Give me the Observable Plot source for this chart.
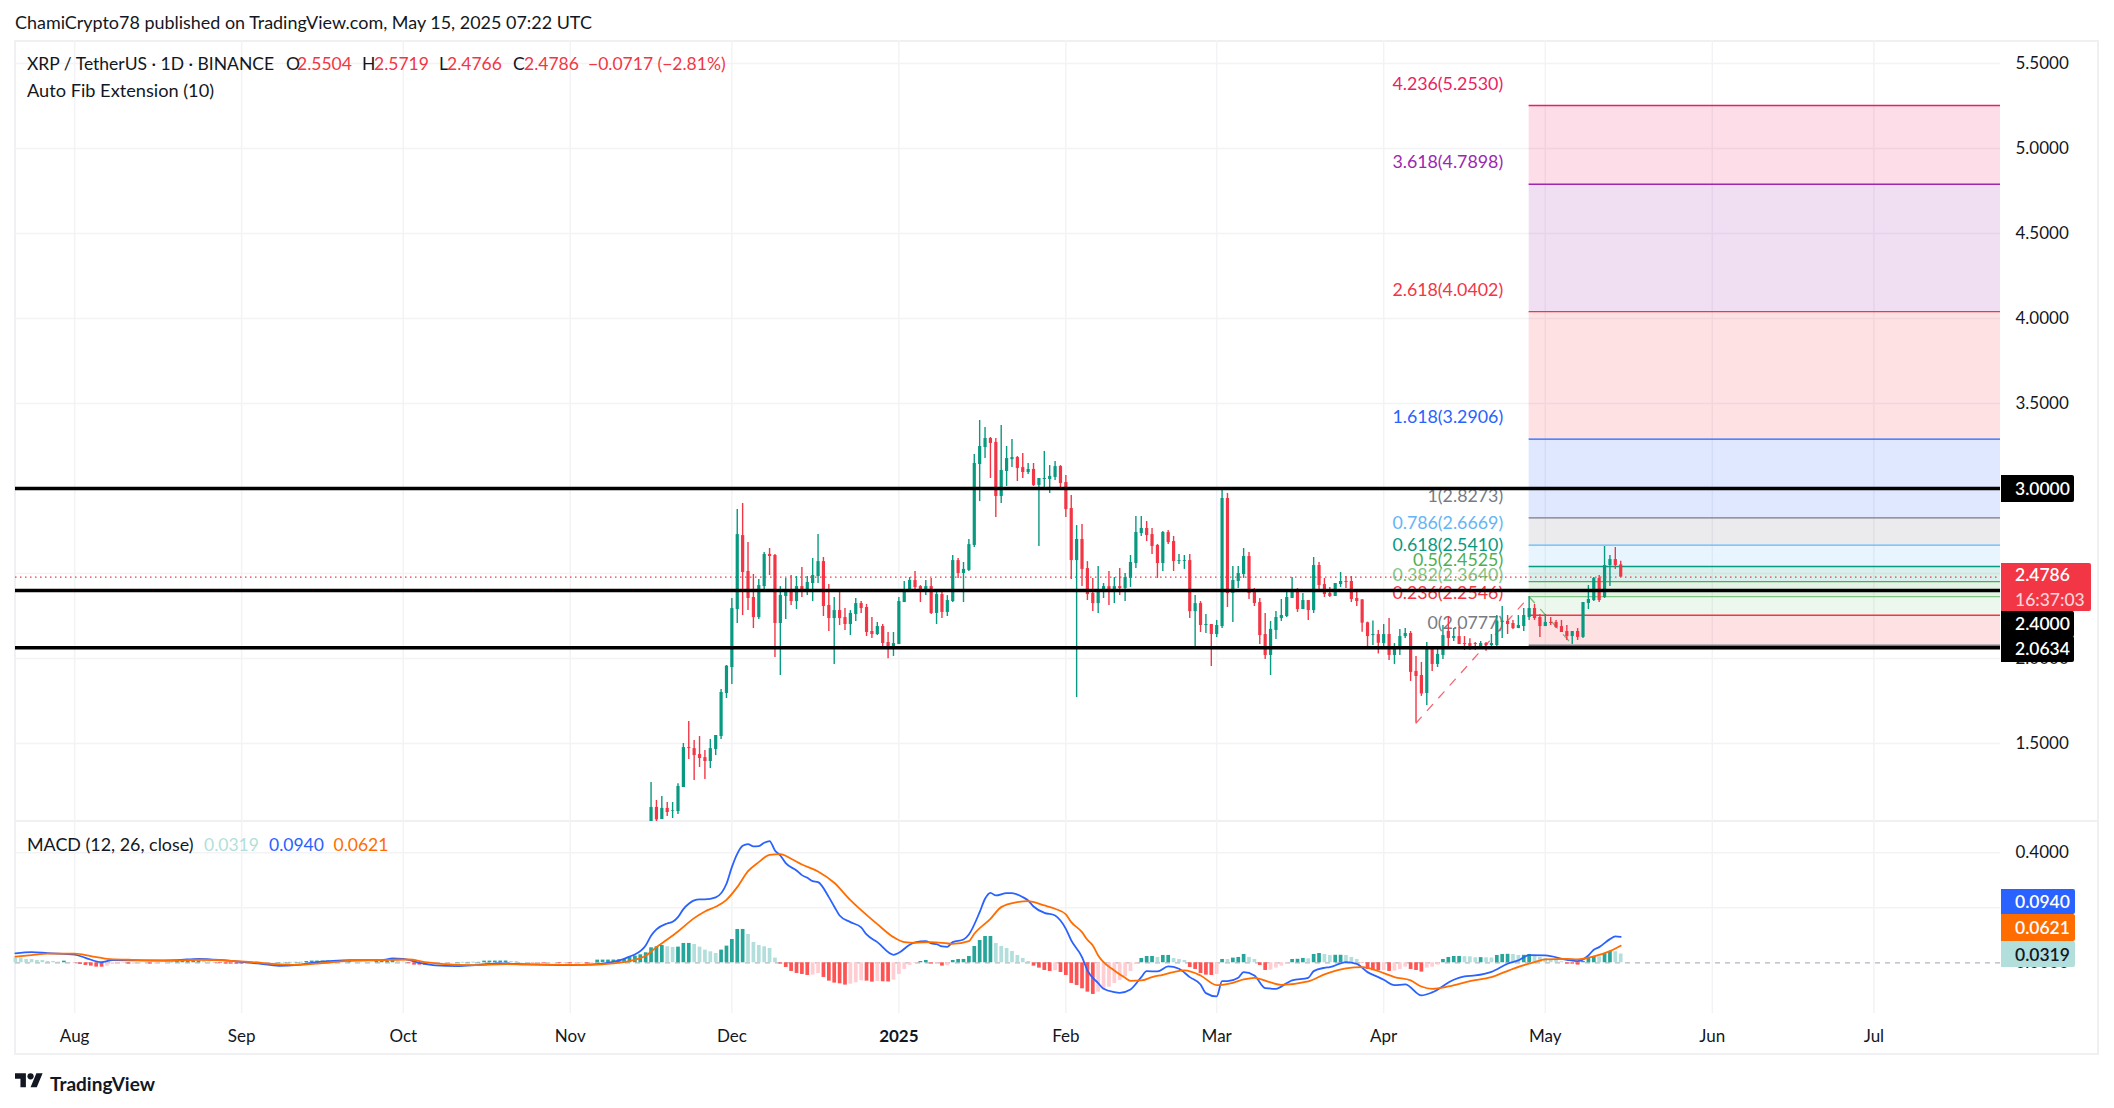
<!DOCTYPE html>
<html><head><meta charset="utf-8">
<script src="https://cdn.jsdelivr.net/npm/d3@7"></script>
<script src="https://cdn.jsdelivr.net/npm/@observablehq/plot@0.6"></script>
<style>
html,body{margin:0;padding:0;background:#fff}
#chart{position:relative;width:2114px;height:1108px;overflow:hidden;font-family:Lato,"Noto Sans",sans-serif;color:#131722}
#chart svg{position:absolute;left:0;top:0}
#frame{position:absolute;left:14px;top:40px;width:2085px;height:1015px;border:2px solid #f0f0f2;box-sizing:border-box}
#divider{position:absolute;left:14px;top:820px;width:2085px;height:2px;background:#f0f0f2}
.t{position:absolute;white-space:nowrap;transform:translateY(-50%);font-size:17.5px;line-height:1}
.tag{position:absolute;left:2001px;display:flex;flex-direction:column;align-items:flex-start;justify-content:center;padding-left:14px;box-sizing:border-box;font-size:17.5px;font-weight:600;color:#fff;border-radius:0 2px 2px 0}
</style></head><body>
<div id="chart"></div>
<script>
// ---------- price candles, daily from 2024-11-16 to 2025-05-15 ----------
const candleOpen = [
1.041,1.124,1.053,1.118,1.102,1.100,1.241,1.476,1.470,1.435,
1.417,1.394,1.465,1.541,1.794,1.947,2.288,2.723,2.512,2.359,
2.241,2.423,2.612,2.606,2.206,2.365,2.394,2.335,2.423,2.394,
2.441,2.482,2.570,2.312,2.235,2.282,2.241,2.200,2.259,2.323,
2.300,2.159,2.141,2.188,2.094,2.053,2.082,2.329,2.400,2.459,
2.423,2.394,2.423,2.265,2.376,2.271,2.335,2.576,2.500,2.518,
2.665,3.141,3.241,3.294,3.271,2.953,3.100,3.170,3.182,3.123,
3.094,3.112,3.018,3.053,3.053,3.065,3.129,3.035,2.882,2.576,
2.700,2.529,2.382,2.323,2.394,2.423,2.388,
2.423,2.412,2.471,2.559,2.735,2.765,2.729,2.665,2.559,2.741,
2.688,2.571,2.571,2.576,2.276,2.323,2.194,2.200,2.141,2.188,
2.941,2.382,2.453,2.494,2.600,2.388,2.329,2.141,2.018,2.165,
2.235,2.247,2.353,2.394,2.288,2.341,2.282,2.547,2.435,2.382,
2.365,2.435,2.453,2.453,2.353,
2.345,2.210,2.135,2.141,2.088,2.141,2.018,2.059,2.129,2.147,
1.924,1.900,1.794,2.053,1.965,2.018,2.159,2.118,2.129,2.088,
2.088,2.088,2.059,2.088,2.076,2.076,2.212,2.218,2.206,2.176,
2.188,2.241,2.294,2.241,2.188,2.212,2.212,2.188,2.159,2.129,
2.159,2.124,2.324,2.341,2.471,2.359,2.547,2.582,2.5504];
const candleHigh = [
1.271,1.165,1.188,1.153,1.153,1.263,1.500,1.629,1.518,1.541,
1.459,1.524,1.547,1.818,1.959,2.353,2.876,2.912,2.682,2.494,
2.465,2.623,2.647,2.612,2.423,2.470,2.488,2.482,2.535,2.482,
2.588,2.729,2.594,2.435,2.359,2.388,2.294,2.282,2.353,2.335,
2.318,2.241,2.212,2.200,2.153,2.153,2.359,2.453,2.476,2.512,
2.429,2.459,2.470,2.400,2.400,2.370,2.606,2.588,2.565,2.700,
3.200,3.400,3.359,3.300,3.294,3.371,3.247,3.288,3.188,3.206,
3.147,3.147,3.059,3.218,3.135,3.159,3.135,3.076,2.959,2.782,
2.788,2.570,2.470,2.541,2.441,2.512,2.476,
2.529,2.500,2.606,2.835,2.835,2.806,2.765,2.671,2.747,2.753,
2.718,2.612,2.606,2.612,2.371,2.335,2.259,2.200,2.224,3.000,
2.971,2.541,2.541,2.647,2.624,2.412,2.353,2.265,2.218,2.276,
2.347,2.394,2.476,2.412,2.382,2.341,2.594,2.565,2.471,2.418,
2.441,2.506,2.482,2.482,2.394,
2.345,2.214,2.220,2.165,2.200,2.235,2.088,2.171,2.176,2.159,
2.012,1.977,2.094,2.067,2.065,2.194,2.247,2.176,2.184,2.129,
2.116,2.094,2.100,2.094,2.141,2.253,2.306,2.253,2.224,2.253,
2.294,2.363,2.318,2.259,2.259,2.241,2.224,2.224,2.194,2.159,
2.176,2.329,2.429,2.476,2.488,2.659,2.606,2.653,2.5719];
const candleLow = [
1.040,1.040,1.053,1.070,1.059,1.082,1.241,1.406,1.282,1.359,
1.288,1.353,1.429,1.523,1.765,1.847,2.206,2.253,2.282,2.176,
2.229,2.388,2.488,2.006,1.900,2.229,2.312,2.288,2.359,2.370,
2.335,2.441,2.247,2.159,1.965,2.194,2.165,2.135,2.218,2.265,
2.129,2.118,2.135,2.070,1.999,2.012,2.082,2.329,2.400,2.400,
2.329,2.370,2.259,2.200,2.235,2.247,2.329,2.470,2.329,2.512,
2.653,2.923,3.176,3.059,2.829,2.912,3.012,3.123,3.041,3.059,
3.082,3.012,2.659,3.006,2.971,3.047,3.000,2.829,2.465,1.770,
2.423,2.341,2.276,2.265,2.353,2.312,2.323,
2.371,2.335,2.418,2.529,2.718,2.688,2.612,2.471,2.512,2.671,
2.512,2.553,2.524,2.235,2.065,2.153,2.147,1.953,2.123,2.176,
2.300,2.212,2.412,2.471,2.347,2.306,2.082,1.994,1.900,2.112,
2.218,2.241,2.353,2.271,2.288,2.223,2.265,2.388,2.359,2.359,
2.365,2.418,2.412,2.329,2.306,
2.155,2.067,2.077,2.027,2.065,1.988,1.965,2.018,2.118,1.865,
1.620,1.777,1.724,1.924,1.947,1.994,2.065,2.100,2.082,2.047,
2.047,2.047,2.053,2.043,2.065,2.065,2.118,2.141,2.171,2.176,
2.159,2.224,2.224,2.124,2.188,2.194,2.176,2.153,2.106,2.082,
2.106,2.118,2.288,2.335,2.329,2.353,2.424,2.524,2.4766];
const candleClose = [
1.124,1.051,1.118,1.094,1.106,1.247,1.476,1.470,1.429,1.412,
1.394,1.470,1.547,1.800,1.955,2.294,2.729,2.506,2.353,2.241,
2.429,2.612,2.600,2.206,2.371,2.394,2.335,2.423,2.394,2.447,
2.488,2.570,2.306,2.235,2.282,2.235,2.200,2.265,2.323,2.294,
2.153,2.141,2.188,2.088,2.053,2.088,2.335,2.406,2.459,2.417,
2.394,2.423,2.265,2.376,2.271,2.341,2.576,2.500,2.524,2.670,
3.147,3.247,3.294,3.265,2.953,3.106,3.176,3.182,3.118,3.094,
3.112,3.018,3.059,3.059,3.071,3.129,3.029,2.876,2.576,2.700,
2.524,2.376,2.323,2.400,2.423,2.388,2.423,
2.412,2.476,2.565,2.741,2.765,2.723,2.659,2.559,2.741,2.682,
2.571,2.576,2.576,2.276,2.323,2.194,2.200,2.141,2.194,2.941,
2.382,2.459,2.500,2.600,2.382,2.323,2.135,2.018,2.171,2.241,
2.253,2.359,2.394,2.288,2.341,2.282,2.547,2.429,2.376,2.365,
2.441,2.453,2.447,2.347,2.335,
2.208,2.129,2.141,2.090,2.141,2.018,2.065,2.129,2.147,1.918,
1.894,1.792,2.053,1.965,2.024,2.135,2.118,2.129,2.082,2.082,
2.065,2.082,2.088,2.076,2.088,2.220,2.220,2.200,2.176,2.194,
2.253,2.294,2.235,2.188,2.212,2.206,2.182,2.153,2.129,2.159,
2.124,2.329,2.347,2.471,2.341,2.547,2.582,2.547,2.4786];

// ---------- fib extension levels ----------
const fibRatios = ["0","0.236","0.382","0.5","0.618","0.786","1","1.618","2.618","3.618","4.236"];
const fibPrices = [2.0777,2.2546,2.3640,2.4525,2.5410,2.6669,2.8273,3.2906,4.0402,4.7898,5.2530];
const fibStartDate = "2025-04-28";
const zigzagUpDates = ["2025-04-07","2025-04-28"];
const zigzagUpPrices = [1.620,2.363];
const zigzagDownDates = ["2025-04-28","2025-05-06"];
const zigzagDownPrices = [2.363,2.082];
const supportLevels = [3.0,2.4,2.0634];
const lastClose = 2.4786;

// ---------- MACD histogram, daily ----------
const histJul = [.0175,.017,.012,.0118,.0085,.0083,.0048,.0046,.0024,.006,.0012];
const histAug = [-.0012,-.006,-.0097,-.012,-.0158,-.016,-.012,-.006,-.0048,-.0024,-.0048,-.0046,-.0024,-.0012,-.0048,-.0036,-.0012,-.0011,.0012,.006,.0062,.0063,.0064,.0065,.0048,.003,-.0012,-.0024,-.0048,-.0049,-.005];
const histSep = [-.0051,-.0024,-.0022,-.0012,-.0011,-.001,-.0009,.0012,.0013,.0014,.0015,.0016,.0048,.0062,.0063,.0064,.0065,.0024,.0023,.0022,.0048,.0024,.0023,.0022,.0021,.0048,.0049,.0062,.0085,.006];
const histOct = [.0024,-.0024,-.0085,-.0086,-.0087,-.0048,-.0024,-.0012,-.0011,-.001,.0012,.0013,.0014,.0015,.0016,.006,.0061,.0062,.0063,.0064,.0048,.0046,.0012,.0011,-.0012,-.0012,-.0024,-.0012,-.0012,-.0024,-.0024];
const histNov = [-.0036,-.0036,-.003,-.0036,-.0024,.0097,.0098,.0099,.01,.0109,.0121,.0218,.0242,.0291,.0364,.0545,.0582,.063,.0582,.0558,.057,.0703,.0704,.0667,.057,.0461,.04,.0339,.0461,.0606];
const histDec = [.0848,.1212,.1213,.103,.0739,.063,.0582,.0521,.017,-.0048,-.017,-.0315,-.0388,-.0424,-.0461,-.0448,-.0388,-.0533,-.0667,-.0739,-.0764,-.0812,-.0776,-.0727,-.0654,-.0667,-.0703,-.0679,-.0691,-.0697,-.063];
const histJan = [-.0424,-.0242,-.0097,-.0024,.0048,.0085,-.0048,-.0024,-.0121,-.0109,.0085,.0121,.0122,.023,.0594,.0812,.0957,.0958,.0703,.0594,.0521,.0412,.0267,.0158,.0048,-.0121,-.0194,-.0279,-.0315,-.0291,-.0352];
const histFeb = [-.0461,-.0751,-.0824,-.0945,-.1067,-.1151,-.1067,-.097,-.0885,-.0751,-.0642,-.0509,-.0315,-.0061,.0158,.023,.0231,.0194,.0267,.0268,.0158,.0121,.0085,-.017,-.0242,-.0388,-.0448,-.0461];
const histMar = [-.0424,.0121,.012,.017,.0194,.0303,.0194,.0121,-.0097,-.0279,-.0267,-.0194,-.0121,-.0024,.0121,.0127,.0158,.0145,.0303,.0339,.0303,.0267,.0273,.0274,.0267,.0194,.0121,-.0012,-.0242,-.0291,-.0292];
const histApr = [-.0279,-.0315,-.0303,-.0242,-.0158,-.0242,-.0279,-.0339,-.0194,-.0158,-.0085,.0121,.0194,.023,.0231,.0224,.0218,.0182,.0188,.0182,.0176,.0267,.0303,.0309,.0303,.0267,.0273,.0303,.0242,.0194];
const histMay = [.0158,.0121,.0085,.0036,-.0048,-.0049,-.0085,.0048,.0158,.023,.0218,.0339,.0412,.04,.0319];

// ---------- MACD line, read at turning points ----------
const macdDates = ["2024-07-21","2024-07-24","2024-07-27","2024-08-01","2024-08-03","2024-08-06","2024-08-08","2024-08-15","2024-08-20","2024-08-24","2024-08-29","2024-09-04","2024-09-08","2024-09-11","2024-09-15","2024-09-18","2024-09-21","2024-09-27","2024-09-29","2024-10-01","2024-10-04","2024-10-07","2024-10-11","2024-10-15","2024-10-19","2024-10-24","2024-11-01","2024-11-05","2024-11-08","2024-11-11","2024-11-12","2024-11-13","2024-11-15","2024-11-16","2024-11-17","2024-11-19","2024-11-20","2024-11-21","2024-11-22","2024-11-23","2024-11-24","2024-11-25","2024-11-26","2024-11-28","2024-11-30","2024-12-01","2024-12-02","2024-12-03","2024-12-04","2024-12-05","2024-12-06","2024-12-07","2024-12-08","2024-12-09","2024-12-10","2024-12-11","2024-12-13","2024-12-14","2024-12-15","2024-12-16","2024-12-17","2024-12-19","2024-12-20","2024-12-21","2024-12-23","2024-12-25","2024-12-26","2024-12-28","2024-12-31","2025-01-01","2025-01-03","2025-01-04","2025-01-06","2025-01-07","2025-01-08","2025-01-09","2025-01-10","2025-01-11","2025-01-13","2025-01-14","2025-01-16","2025-01-17","2025-01-18","2025-01-19","2025-01-21","2025-01-22","2025-01-24","2025-01-25","2025-01-26","2025-01-28","2025-01-30","2025-01-31","2025-02-01","2025-02-02","2025-02-04","2025-02-05","2025-02-07","2025-02-08","2025-02-10","2025-02-11","2025-02-13","2025-02-15","2025-02-16","2025-02-18","2025-02-20","2025-02-22","2025-02-24","2025-02-26","2025-02-27","2025-03-01","2025-03-02","2025-03-03","2025-03-05","2025-03-06","2025-03-08","2025-03-10","2025-03-12","2025-03-14","2025-03-15","2025-03-18","2025-03-19","2025-03-21","2025-03-22","2025-03-25","2025-03-27","2025-03-29","2025-03-31","2025-04-01","2025-04-03","2025-04-05","2025-04-08","2025-04-10","2025-04-14","2025-04-16","2025-04-18","2025-04-21","2025-04-24","2025-04-26","2025-04-28","2025-05-01","2025-05-05","2025-05-07","2025-05-09","2025-05-10","2025-05-11","2025-05-13","2025-05-14","2025-05-15"];
const macdValues = [.034,.039,.035,.030,.018,.002,.010,.0085,.0097,.0145,.0085,-.0024,-.011,-.0085,.0024,.0073,.0097,.0097,.0158,.0145,0,-.0097,-.012,-.0073,-.0024,-.006,-.0085,-.006,0,.0145,.023,.0303,.063,.0982,.1212,.143,.1491,.1661,.1952,.2145,.2267,.2303,.2303,.2376,.2873,.3479,.3964,.4255,.4315,.423,.4242,.4364,.4424,.4085,.3903,.3624,.3358,.3188,.3091,.297,.2933,.2388,.2048,.1721,.1479,.1285,.103,.0752,.0291,.0364,.0655,.0739,.0788,.0703,.0679,.0594,.0582,.0752,.0848,.103,.1842,.2327,.2545,.2448,.2533,.2533,.2388,.2267,.2048,.1818,.1721,.1539,.1236,.0812,.0206,-.0279,-.0739,-.0945,-.1067,-.1091,-.097,-.0521,-.0303,-.0315,-.0133,-.0218,-.0521,-.0788,-.1103,-.1224,-.0667,-.0667,-.0545,-.0339,-.0461,-.0921,-.0945,-.0739,-.0642,-.0545,-.0303,-.0182,-.0158,.0024,-.0036,-.0339,-.0521,-.0618,-.0812,-.0788,-.1188,-.1079,-.0618,-.0497,-.0461,-.0327,-.0036,.0085,.0279,.0267,.0109,.0061,.0267,.0473,.057,.0861,.0958,.094];
const signalDates = ["2024-07-21","2024-07-24","2024-07-27","2024-08-01","2024-08-04","2024-08-07","2024-08-11","2024-08-18","2024-08-24","2024-08-30","2024-09-03","2024-09-08","2024-09-11","2024-09-16","2024-09-20","2024-09-27","2024-10-02","2024-10-05","2024-10-08","2024-10-14","2024-10-20","2024-10-24","2024-11-01","2024-11-05","2024-11-09","2024-11-12","2024-11-15","2024-11-17","2024-11-19","2024-11-21","2024-11-24","2024-11-26","2024-11-28","2024-11-30","2024-12-02","2024-12-04","2024-12-06","2024-12-08","2024-12-10","2024-12-12","2024-12-14","2024-12-17","2024-12-20","2024-12-23","2024-12-25","2024-12-28","2024-12-31","2025-01-02","2025-01-04","2025-01-07","2025-01-11","2025-01-14","2025-01-15","2025-01-18","2025-01-20","2025-01-23","2025-01-25","2025-01-28","2025-01-30","2025-02-01","2025-02-02","2025-02-04","2025-02-05","2025-02-06","2025-02-07","2025-02-10","2025-02-12","2025-02-13","2025-02-15","2025-02-17","2025-02-19","2025-02-21","2025-02-23","2025-02-26","2025-03-01","2025-03-04","2025-03-06","2025-03-08","2025-03-11","2025-03-13","2025-03-18","2025-03-21","2025-03-25","2025-03-28","2025-04-01","2025-04-03","2025-04-06","2025-04-08","2025-04-10","2025-04-13","2025-04-17","2025-04-21","2025-04-25","2025-04-29","2025-05-01","2025-05-05","2025-05-07","2025-05-10","2025-05-13","2025-05-15"];
const signalValues = [.022,.028,.033,.033,.024,.0145,.011,.0073,.011,.0073,.0024,-.006,-.0073,-.0012,.006,.0097,.012,.0024,-.0036,-.0085,-.0048,-.006,-.0073,-.0073,-.0024,.0061,.0255,.057,.0848,.1139,.1624,.1867,.2036,.2291,.2752,.3333,.3661,.3927,.3952,.3782,.3576,.3321,.2909,.2279,.1915,.1406,.0933,.0752,.0727,.0752,.0691,.0788,.1055,.16,.2024,.2206,.2242,.2085,.1964,.1758,.1479,.1115,.0836,.063,.0267,-.0279,-.0545,-.0655,-.0642,-.0521,-.0436,-.0339,-.0279,-.0461,-.0812,-.0727,-.0606,-.0545,-.0715,-.08,-.0679,-.0424,-.0206,-.0158,-.0376,-.0521,-.0642,-.0861,-.0945,-.0861,-.0667,-.0521,-.0218,.0024,.0121,.0145,.0121,.023,.0424,.0621];

// ---------- axis labels ----------
const monthTicks = ["2024-08-01","2024-09-01","2024-10-01","2024-11-01","2024-12-01","2025-02-01","2025-03-01","2025-04-01","2025-05-01","2025-06-01","2025-07-01"];
const monthNames = ["Aug","Sep","Oct","Nov","Dec","Feb","Mar","Apr","May","Jun","Jul"];
const yearTick = "2025-01-01";
const yearName = "2025";
const priceTicks = [1.5,2,2.5,3,3.5,4,4.5,5,5.5];
const macdTicks = [0,0.2,0.4];

// ---------- assembling ----------
const D = s => new Date(s + "T00:00:00Z");
const candles = d3.utcDay.range(D("2024-11-16"), D("2025-05-16")).map((date,i)=>({date,o:candleOpen[i],h:candleHigh[i],l:candleLow[i],c:candleClose[i]}));
const histAll = [...histJul,...histAug,...histSep,...histOct,...histNov,...histDec,...histJan,...histFeb,...histMar,...histApr,...histMay];
const hist = d3.utcDay.range(D("2024-07-21"), D("2025-05-16")).map((date,i)=>({date,v:histAll[i],p:i?histAll[i-1]:histAll[i]+1}));
const macdLine = macdDates.map((d,i)=>({date:D(d),v:macdValues[i]}));
const signalLine = signalDates.map((d,i)=>({date:D(d),v:signalValues[i]}));

// ---------- style ----------
const UP="#089981", DOWN="#f23645", GRID="#f3f3f5";
const fibColors=["#787b86","#f23645","#81c784","#4caf50","#089981","#64b5f6","#787b86","#2962ff","#f23645","#9c27b0","#e91e63"];
const xDomain=[new Date("2024-07-21T00:30:00Z"),new Date("2025-07-24T12:00:00Z")];
const FONT='Lato,"Noto Sans",sans-serif';
const xEnd=xDomain[1];

const fibs=fibPrices.map((p,i)=>({p,prev:i?fibPrices[i-1]:p,color:fibColors[i],label:`${fibRatios[i]}(${p.toFixed(4)})`}));
const fibStart=D(fibStartDate);
const baseOpts={width:2114,height:1108,marginLeft:15,marginRight:114,
  x:{type:"utc",domain:xDomain,axis:null},color:{type:"identity"},
  style:{background:"transparent",fontFamily:FONT,overflow:"visible"}};
const allMonths=[...monthTicks,yearTick].map(D);

const price=Plot.plot({...baseOpts,marginTop:40,marginBottom:287,
  y:{domain:[1.0412,5.6353],axis:null},
  marks:[
    Plot.ruleX(allMonths,{stroke:GRID,strokeWidth:1.5}),
    Plot.ruleY(priceTicks,{stroke:GRID,strokeWidth:1.5}),
    Plot.rect(fibs.slice(1),{x1:()=>fibStart,x2:()=>xEnd,y1:"prev",y2:"p",fill:"color",fillOpacity:.15}),
    Plot.ruleY(fibs,{x1:()=>fibStart,x2:()=>xEnd,y:"p",stroke:"color",strokeWidth:1.4}),
    Plot.text(fibs,{x:()=>fibStart,y:"p",text:"label",fill:"color",textAnchor:"end",dx:-26,dy:-21.6,fontSize:17.8}),
    Plot.ruleY([lastClose],{stroke:"#f23645",strokeWidth:1.3,strokeDasharray:"1.5,3.5"}),
    Plot.line(zigzagUpDates.map((d,i)=>({d:D(d),p:zigzagUpPrices[i]})),{x:"d",y:"p",stroke:"#f23645",strokeOpacity:.75,strokeWidth:1.3,strokeDasharray:"8,9"}),
    Plot.line(zigzagDownDates.map((d,i)=>({d:D(d),p:zigzagDownPrices[i]})),{x:"d",y:"p",stroke:"#4caf50",strokeOpacity:.75,strokeWidth:1.3,strokeDasharray:"8,9"}),
    Plot.ruleX(candles,{x:"date",y1:"l",y2:"h",stroke:d=>d.c>=d.o?UP:DOWN,strokeWidth:1.4,clip:true}),
    Plot.ruleX(candles,{x:"date",y1:"o",y2:"c",stroke:d=>d.c>=d.o?UP:DOWN,strokeWidth:3.2,clip:true}),
    Plot.ruleY(supportLevels,{stroke:"#000",strokeWidth:3.4}),
    Plot.axisY(priceTicks,{anchor:"right",tickSize:0,tickPadding:15,tickFormat:d3.format(".4f"),fontSize:17,fill:"#131722",label:null})
  ]});

const macd=Plot.plot({...baseOpts,marginTop:821,marginBottom:95,
  y:{domain:[-.1844,.5138],axis:null},
  marks:[
    Plot.ruleX(allMonths,{stroke:GRID,strokeWidth:1.5}),
    Plot.ruleY([.2,.4],{stroke:GRID,strokeWidth:1.5}),
    Plot.ruleY([0],{stroke:"#b2b5be",strokeWidth:1.3,strokeDasharray:"5,5"}),
    Plot.ruleX(hist,{x:"date",y1:()=>0,y2:"v",strokeWidth:3.7,
      stroke:d=>d.v>=0?(d.v>=d.p?"#26a69a":"#b2dfdb"):(d.v<d.p?"#ff5252":"#ffcdd2")}),
    Plot.line(macdLine,{x:"date",y:"v",stroke:"#2962ff",strokeWidth:1.8,curve:"monotone-x"}),
    Plot.line(signalLine,{x:"date",y:"v",stroke:"#ff6d00",strokeWidth:1.8,curve:"monotone-x"}),
    Plot.axisY(macdTicks,{anchor:"right",tickSize:0,tickPadding:15,tickFormat:d3.format(".4f"),fontSize:17,fill:"#131722",label:null}),
    Plot.axisX(monthTicks.map(D),{anchor:"bottom",tickSize:0,tickPadding:16,tickFormat:(d,i)=>monthNames[monthTicks.findIndex(s=>+D(s)===+d)],fontSize:17,fill:"#131722",label:null}),
    Plot.axisX([D(yearTick)],{anchor:"bottom",tickSize:0,tickPadding:16,tickFormat:()=>yearName,fontSize:17,fontWeight:"bold",fill:"#131722",label:null})
  ]});

const chart=document.getElementById("chart");
const add=(html)=>{const t=document.createElement("template");t.innerHTML=html.trim();chart.appendChild(t.content.firstChild)};
add('<div id="frame"></div>');
add('<div id="divider"></div>');
chart.appendChild(price);chart.appendChild(macd);
const txt=(s,x,y,c,fs)=>add(`<div class="t" style="left:${x}px;top:${y}px;color:${c||"#131722"};font-size:${fs||17.5}px">${s}</div>`);
txt("ChamiCrypto78 published on TradingView.com, May 15, 2025 07:22 UTC",15,23,null,17.95);
txt("XRP / TetherUS · 1D · BINANCE",27,64);
txt("O",286,64);txt("2.5504",297,64,DOWN);
txt("H",362,64);txt("2.5719",374,64,DOWN);
txt("L",439,64);txt("2.4766",447,64,DOWN);
txt("C",513,64);txt("2.4786",524,64,DOWN);
txt("−0.0717 (−2.81%)",588,64,DOWN);
txt("Auto Fib Extension (10)",27,90,null,18.2);
txt("MACD (12, 26, close)",27,845,null,17.9);
txt("0.0319",204,845,"#b2dfdb");txt("0.0940",269,845,"#2962ff");txt("0.0621",333.5,845,"#ff6d00");
const tag=(top,h,w,bg,c,lines)=>add(`<div class="tag" style="top:${top}px;height:${h}px;width:${w}px;background:${bg};color:${c}">${lines}</div>`);
tag(474.5,27,73,"#000","#fff","3.0000");
tag(611,25.5,73,"#000","#fff","2.4000");
tag(636,25.5,73,"#000","#fff","2.0634");
tag(563,48,90,DOWN,"#fff",'<span>2.4786</span><span style="color:#fdd5d8;font-weight:500;margin-top:4px">16:37:03</span>');
tag(889,25,74,"#2962ff","#fff","0.0940");
tag(914,27,74,"#ff6d00","#fff","0.0621");
tag(941,26,74,"#b2dfdb","#131722","0.0319");
add('<svg style="left:15px;top:1070px" width="28" height="22" viewBox="0 0 36 28"><path fill="#131722" d="M14 22H7V11H0V4h14v18zM28 22h-8l7.5-18h8L28 22z"></path><circle fill="#131722" cx="20" cy="8" r="4"></circle></svg>');
add('<div class="t" style="left:50px;top:1083px;font-size:19px;font-weight:700;color:#131722">TradingView</div>');
</script>
</body></html>
